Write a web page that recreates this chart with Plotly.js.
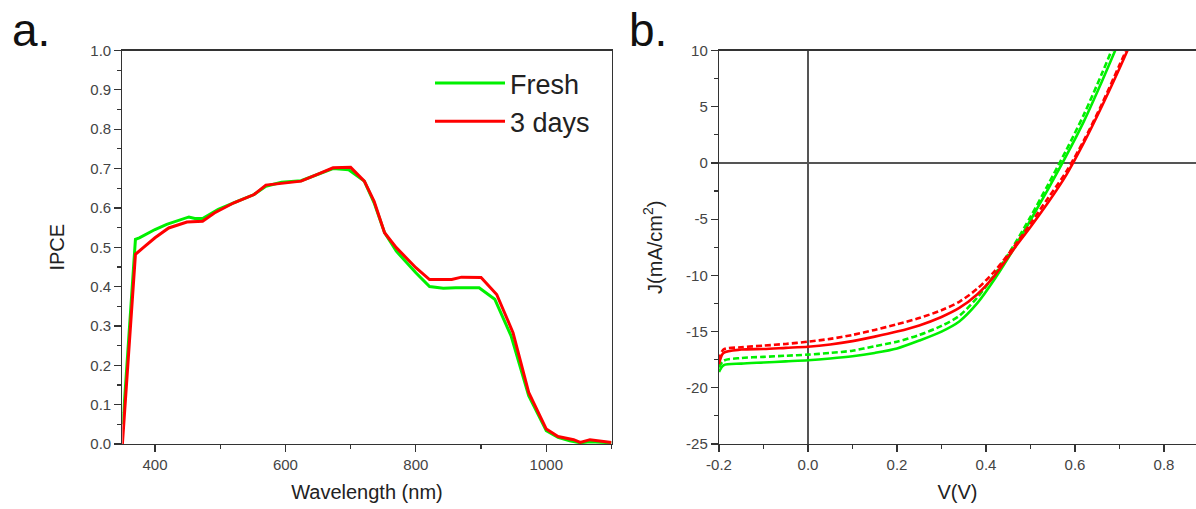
<!DOCTYPE html>
<html>
<head>
<meta charset="utf-8">
<script src="https://cdn.plot.ly/plotly-3.0.1.min.js"></script>
<style>html,body{margin:0;padding:0;background:#fff;}#chart{width:1196px;height:509px;}</style>
</head>
<body>
<div id="chart"></div>
<script>
// ---- Panel a: IPCE spectra ----
const freshWavelength = [350, 352, 370, 376, 400, 418, 452, 461, 473, 497, 527, 552, 570, 594, 624, 649, 673, 697, 721, 736, 752, 770, 800, 821, 842, 861, 897, 921, 946, 973, 1000, 1018, 1036, 1052, 1067, 1100];
const freshIpce      = [0.05, 0.08, 0.52, 0.524, 0.545, 0.558, 0.577, 0.573, 0.573, 0.596, 0.617, 0.634, 0.655, 0.665, 0.669, 0.685, 0.700, 0.697, 0.668, 0.613, 0.537, 0.490, 0.435, 0.400, 0.396, 0.397, 0.397, 0.368, 0.275, 0.123, 0.034, 0.017, 0.008, 0.003, 0.006, 0.003];
const daysWavelength = [350, 370, 382, 400, 421, 449, 473, 491, 521, 552, 570, 594, 624, 649, 673, 700, 721, 736, 752, 770, 800, 821, 855, 870, 900, 924, 949, 973, 1000, 1018, 1042, 1052, 1067, 1100];
const daysIpce       = [0.0, 0.482, 0.499, 0.524, 0.549, 0.564, 0.566, 0.587, 0.613, 0.634, 0.658, 0.663, 0.668, 0.685, 0.702, 0.703, 0.668, 0.617, 0.537, 0.499, 0.448, 0.418, 0.418, 0.424, 0.423, 0.380, 0.283, 0.131, 0.038, 0.019, 0.011, 0.004, 0.011, 0.004];
const ipceSeriesNames = ['Fresh', '3 days'];

// ---- Panel b: J-V curves ----
const voltage        = [-0.2, -0.19, -0.15, -0.1, -0.05, 0, 0.05, 0.1, 0.15, 0.2, 0.25, 0.3, 0.34, 0.38, 0.42, 0.46, 0.5, 0.54, 0.58, 0.62, 0.66, 0.7, 0.74];
const jFreshSolid    = [-18.6, -18.0, -17.85, -17.75, -17.65, -17.55, -17.4, -17.2, -16.9, -16.5, -15.8, -15.0, -14.1, -12.5, -10.3, -7.8, -5.1, -2.3, 0.6, 3.7, 7.2, 10.9, 14.7];
const jFreshDashed   = [-18.2, -17.6, -17.35, -17.25, -17.15, -17.05, -16.9, -16.7, -16.3, -15.9, -15.3, -14.5, -13.6, -12.0, -9.9, -7.5, -4.8, -1.9, 1.1, 4.3, 7.9, 11.7, 15.5];
const jDaysSolid     = [-17.9, -16.9, -16.6, -16.55, -16.45, -16.35, -16.15, -15.85, -15.45, -15.0, -14.45, -13.7, -12.9, -11.7, -10.0, -7.8, -5.7, -3.5, -1.1, 1.8, 5.0, 8.4, 12.0];
const jDaysDashed    = [-17.6, -16.6, -16.4, -16.25, -16.1, -15.9, -15.65, -15.3, -14.85, -14.35, -13.8, -13.1, -12.35, -11.2, -9.6, -7.6, -5.4, -3.1, -0.8, 2.0, 5.2, 8.7, 12.2];

// ---- Tick labels ----
const ipceTickVals = [0, 0.1, 0.2, 0.3, 0.4, 0.5, 0.6, 0.7, 0.8, 0.9, 1.0];
const ipceTickText = ['0.0', '0.1', '0.2', '0.3', '0.4', '0.5', '0.6', '0.7', '0.8', '0.9', '1.0'];
const wlTickVals = [400, 600, 800, 1000];
const wlTickText = ['400', '600', '800', '1000'];
const vTickVals = [-0.2, 0, 0.2, 0.4, 0.6, 0.8];
const vTickText = ['-0.2', '0.0', '0.2', '0.4', '0.6', '0.8'];
const jTickVals = [-25, -20, -15, -10, -5, 0, 5, 10];
const jTickText = ['-25', '-20', '-15', '-10', '-5', '0', '5', '10'];

const GREEN = '#00f000';
const RED = '#ff0000';

const traces = [
  {x: freshWavelength, y: freshIpce, name: ipceSeriesNames[0], type: 'scatter', mode: 'lines',
   line: {color: GREEN, width: 3}, xaxis: 'x', yaxis: 'y'},
  {x: daysWavelength, y: daysIpce, name: ipceSeriesNames[1], type: 'scatter', mode: 'lines',
   line: {color: RED, width: 3}, xaxis: 'x', yaxis: 'y'},
  {x: voltage, y: jFreshDashed, name: 'Fresh reverse', showlegend: false, type: 'scatter', mode: 'lines',
   line: {color: GREEN, width: 2.6, dash: '6px,3px', shape: 'spline', smoothing: 0.8}, xaxis: 'x2', yaxis: 'y2'},
  {x: voltage, y: jFreshSolid, name: 'Fresh forward', showlegend: false, type: 'scatter', mode: 'lines',
   line: {color: GREEN, width: 2.6, shape: 'spline', smoothing: 0.8}, xaxis: 'x2', yaxis: 'y2'},
  {x: voltage, y: jDaysDashed, name: '3 days reverse', showlegend: false, type: 'scatter', mode: 'lines',
   line: {color: RED, width: 2.6, dash: '6px,3px', shape: 'spline', smoothing: 0.8}, xaxis: 'x2', yaxis: 'y2'},
  {x: voltage, y: jDaysSolid, name: '3 days forward', showlegend: false, type: 'scatter', mode: 'lines',
   line: {color: RED, width: 2.6, shape: 'spline', smoothing: 0.8}, xaxis: 'x2', yaxis: 'y2'}
];

const W = 1196, H = 509;
const px = v => v / W;
const py = v => (H - v) / H;

const axisCommon = {
  showline: true, linecolor: '#333', linewidth: 1.2,
  ticks: 'outside', ticklen: 7, tickwidth: 1.2, tickcolor: '#333',
  showgrid: false, zeroline: false,
  tickfont: {size: 15, color: '#444'},
  fixedrange: true
};

const layout = {
  width: W, height: H,
  margin: {l: 0, r: 0, t: 0, b: 0},
  paper_bgcolor: '#ffffff', plot_bgcolor: '#ffffff',
  font: {family: '"Liberation Sans", Arial, sans-serif', size: 15, color: '#444'},
  showlegend: true,
  legend: {x: px(430), y: py(59), xanchor: 'left', yanchor: 'top',
           font: {size: 27, color: '#222'}, itemwidth: 70, bgcolor: 'rgba(0,0,0,0)',
           borderwidth: 0, tracegroupgap: 0},
  xaxis: Object.assign({}, axisCommon, {
    domain: [px(122.4), px(611.5)], range: [350, 1100], anchor: 'y',
    tickmode: 'array', tickvals: wlTickVals, ticktext: wlTickText, mirror: true,
    minor: {dtick: 100, tick0: 0, ticks: 'outside', ticklen: 4, tickwidth: 1.2, tickcolor: '#333', showgrid: false},
    title: {text: 'Wavelength (nm)', font: {size: 20, color: '#222'}, standoff: 12}
  }),
  yaxis: Object.assign({}, axisCommon, {
    domain: [1 - 444 / H, 1 - 50.5 / H], range: [0, 1], anchor: 'x',
    tickmode: 'array', tickvals: ipceTickVals, ticktext: ipceTickText, mirror: true,
    minor: {dtick: 0.05, tick0: 0, ticks: 'outside', ticklen: 4, tickwidth: 1.2, tickcolor: '#333', showgrid: false},
    title: {text: 'IPCE', font: {size: 20, color: '#222'}, standoff: 20}
  }),
  xaxis2: Object.assign({}, axisCommon, {
    domain: [px(719), 1], range: [-0.2, 0.872], anchor: 'y2',
    tickmode: 'array', tickvals: vTickVals, ticktext: vTickText, mirror: true,
    zeroline: true, zerolinecolor: '#555', zerolinewidth: 1.2,
    minor: {dtick: 0.1, tick0: 0, ticks: 'outside', ticklen: 4, tickwidth: 1.2, tickcolor: '#333', showgrid: false},
    title: {text: 'V(V)', font: {size: 20, color: '#222'}, standoff: 12}
  }),
  yaxis2: Object.assign({}, axisCommon, {
    domain: [1 - 444 / H, 1 - 50.5 / H], range: [-25, 10], anchor: 'x2',
    tickmode: 'array', tickvals: jTickVals, ticktext: jTickText, mirror: false,
    zeroline: true, zerolinecolor: '#555', zerolinewidth: 1.2,
    minor: {dtick: 2.5, tick0: 0, ticks: 'outside', ticklen: 4, tickwidth: 1.2, tickcolor: '#333', showgrid: false},
    title: {text: 'J(mA/cm<sup>2</sup>)', font: {size: 20, color: '#222'}, standoff: 18}
  }),
  annotations: [
    {text: 'a.', xref: 'paper', yref: 'paper', x: px(10), y: py(2), xanchor: 'left', yanchor: 'top',
     showarrow: false, font: {size: 46, color: '#111'}},
    {text: 'b.', xref: 'paper', yref: 'paper', x: px(627), y: py(2), xanchor: 'left', yanchor: 'top',
     showarrow: false, font: {size: 46, color: '#111'}}
  ]
};

Plotly.newPlot('chart', traces, layout, {staticPlot: true, displayModeBar: false});
</script>
</body>
</html>
